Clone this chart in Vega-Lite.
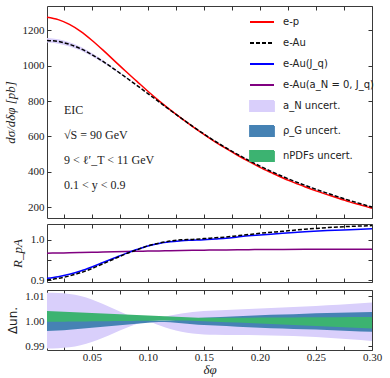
{
  "$schema": "https://vega.github.io/schema/vega-lite/v6.json",
  "padding": {"left": 3, "top": 5, "right": 5, "bottom": 2},
  "background": "white",
  "config": {
    "view": {"stroke": "#3a3a3a", "strokeWidth": 1},
    "axis": {"domain": false, "grid": false, "tickColor": "#333", "tickSize": -4, "labelPadding": 7, "labelFont": "Liberation Serif", "labelFontSize": 11, "labelColor": "#222", "titleFont": "Liberation Serif", "titleFontSize": 13, "titleFontWeight": "normal", "titleColor": "#222", "labelFlush": false},
    "line": {"strokeWidth": 1.5, "interpolate": "monotone"},
    "area": {"opacity": 1, "interpolate": "monotone"}
  },
  "datasets": {
    "main": [
      {"d":0.01,"ep":1272,"eau":1142,"alo":1129.4,"ahi":1154.9},
      {"d":0.02,"ep":1259,"eau":1136,"alo":1123.6,"ahi":1148.7},
      {"d":0.03,"ep":1232,"eau":1120,"alo":1108.2,"ahi":1132.1},
      {"d":0.04,"ep":1193,"eau":1095,"alo":1084.4,"ahi":1106.0},
      {"d":0.05,"ep":1143,"eau":1062,"alo":1053.1,"ahi":1071.1},
      {"d":0.06,"ep":1087,"eau":1023,"alo":1016.1,"ahi":1030.0},
      {"d":0.07,"ep":1028,"eau":980,"alo":975.3,"ahi":984.7},
      {"d":0.08,"ep":969,"eau":935,"alo":932.3,"ahi":937.6},
      {"d":0.09,"ep":912,"eau":889,"alo":887.9,"ahi":889.9},
      {"d":0.10,"ep":855,"eau":842,"alo":841.7,"ahi":842.2},
      {"d":0.11,"ep":801,"eau":795,"alo":793.6,"ahi":796.0},
      {"d":0.12,"ep":750,"eau":748,"alo":745.6,"ahi":749.6},
      {"d":0.13,"ep":702,"eau":702,"alo":699.0,"ahi":704.1},
      {"d":0.14,"ep":656,"eau":657,"alo":653.7,"ahi":659.4},
      {"d":0.15,"ep":612,"eau":614,"alo":610.7,"ahi":616.5},
      {"d":0.16,"ep":570,"eau":573,"alo":569.8,"ahi":575.4},
      {"d":0.17,"ep":531,"eau":535,"alo":532.0,"ahi":537.4},
      {"d":0.18,"ep":494,"eau":499,"alo":496.2,"ahi":501.3},
      {"d":0.19,"ep":459,"eau":465,"alo":462.3,"ahi":467.2},
      {"d":0.20,"ep":426,"eau":433,"alo":430.5,"ahi":435.2},
      {"d":0.21,"ep":396,"eau":403,"alo":400.7,"ahi":405.1},
      {"d":0.22,"ep":367,"eau":375,"alo":372.8,"ahi":377.0},
      {"d":0.23,"ep":341,"eau":349,"alo":346.9,"ahi":351.0},
      {"d":0.24,"ep":316,"eau":325,"alo":323.0,"ahi":326.9},
      {"d":0.25,"ep":293,"eau":302,"alo":300.1,"ahi":303.8},
      {"d":0.26,"ep":272,"eau":280,"alo":278.1,"ahi":281.8},
      {"d":0.27,"ep":251,"eau":259,"alo":257.2,"ahi":260.7},
      {"d":0.28,"ep":231,"eau":239,"alo":237.3,"ahi":240.6},
      {"d":0.29,"ep":213,"eau":220,"alo":218.3,"ahi":221.6},
      {"d":0.30,"ep":195,"eau":202,"alo":200.4,"ahi":203.5}
    ],
    "ratio": [
      {"d":0.01,"eau":0.901,"jq":0.905,"an0":0.967},
      {"d":0.02,"eau":0.905,"jq":0.909,"an0":0.9675},
      {"d":0.03,"eau":0.911,"jq":0.915,"an0":0.968},
      {"d":0.04,"eau":0.919,"jq":0.923,"an0":0.9686},
      {"d":0.05,"eau":0.929,"jq":0.933,"an0":0.9692},
      {"d":0.06,"eau":0.941,"jq":0.944,"an0":0.9698},
      {"d":0.07,"eau":0.953,"jq":0.955,"an0":0.9704},
      {"d":0.08,"eau":0.965,"jq":0.966,"an0":0.971},
      {"d":0.09,"eau":0.975,"jq":0.976,"an0":0.9716},
      {"d":0.10,"eau":0.985,"jq":0.985,"an0":0.9722},
      {"d":0.11,"eau":0.992,"jq":0.991,"an0":0.9727},
      {"d":0.12,"eau":0.997,"jq":0.995,"an0":0.9732},
      {"d":0.13,"eau":1.000,"jq":0.998,"an0":0.9736},
      {"d":0.14,"eau":1.001,"jq":0.999,"an0":0.974},
      {"d":0.15,"eau":1.003,"jq":1.000,"an0":0.9744},
      {"d":0.16,"eau":1.005,"jq":1.002,"an0":0.9748},
      {"d":0.17,"eau":1.007,"jq":1.004,"an0":0.9751},
      {"d":0.18,"eau":1.010,"jq":1.007,"an0":0.9754},
      {"d":0.19,"eau":1.013,"jq":1.010,"an0":0.9757},
      {"d":0.20,"eau":1.016,"jq":1.012,"an0":0.976},
      {"d":0.22,"eau":1.021,"jq":1.016,"an0":0.9764},
      {"d":0.24,"eau":1.026,"jq":1.020,"an0":0.9767},
      {"d":0.26,"eau":1.030,"jq":1.023,"an0":0.9769},
      {"d":0.28,"eau":1.033,"jq":1.025,"an0":0.977},
      {"d":0.30,"eau":1.035,"jq":1.027,"an0":0.977}
    ],
    "unc": [
      {"d":0.01,"b":"an","lo":0.9890,"hi":1.0113},{"d":0.01,"b":"rg","lo":0.9960,"hi":1.0036},{"d":0.01,"b":"np","lo":0.9997,"hi":1.0040},
      {"d":0.02,"b":"an","lo":0.9891,"hi":1.0112},{"d":0.02,"b":"rg","lo":0.9962,"hi":1.0034},{"d":0.02,"b":"np","lo":0.9997,"hi":1.0038},
      {"d":0.03,"b":"an","lo":0.9895,"hi":1.0108},{"d":0.03,"b":"rg","lo":0.9965,"hi":1.0031},{"d":0.03,"b":"np","lo":0.9998,"hi":1.0036},
      {"d":0.04,"b":"an","lo":0.9903,"hi":1.0100},{"d":0.04,"b":"rg","lo":0.9969,"hi":1.0027},{"d":0.04,"b":"np","lo":0.9998,"hi":1.0034},
      {"d":0.05,"b":"an","lo":0.9916,"hi":1.0086},{"d":0.05,"b":"rg","lo":0.9973,"hi":1.0023},{"d":0.05,"b":"np","lo":0.9999,"hi":1.0032},
      {"d":0.06,"b":"an","lo":0.9933,"hi":1.0068},{"d":0.06,"b":"rg","lo":0.9977,"hi":1.0019},{"d":0.06,"b":"np","lo":0.9999,"hi":1.0030},
      {"d":0.07,"b":"an","lo":0.9952,"hi":1.0048},{"d":0.07,"b":"rg","lo":0.9981,"hi":1.0015},{"d":0.07,"b":"np","lo":1.0000,"hi":1.0028},
      {"d":0.08,"b":"an","lo":0.9971,"hi":1.0028},{"d":0.08,"b":"rg","lo":0.9985,"hi":1.0011},{"d":0.08,"b":"np","lo":1.0000,"hi":1.0026},
      {"d":0.09,"b":"an","lo":0.9988,"hi":1.0010},{"d":0.09,"b":"rg","lo":0.9989,"hi":1.0007},{"d":0.09,"b":"np","lo":1.0001,"hi":1.0024},
      {"d":0.10,"b":"an","lo":0.9997,"hi":1.0002},{"d":0.10,"b":"rg","lo":0.9993,"hi":1.0004},{"d":0.10,"b":"np","lo":1.0001,"hi":1.0022},
      {"d":0.11,"b":"an","lo":0.9983,"hi":1.0012},{"d":0.11,"b":"rg","lo":0.9996,"hi":1.0001},{"d":0.11,"b":"np","lo":1.0002,"hi":1.0020},
      {"d":0.12,"b":"an","lo":0.9968,"hi":1.0022},{"d":0.12,"b":"rg","lo":0.9995,"hi":1.0002},{"d":0.12,"b":"np","lo":1.0002,"hi":1.0018},
      {"d":0.13,"b":"an","lo":0.9957,"hi":1.0030},{"d":0.13,"b":"rg","lo":0.9991,"hi":1.0006},{"d":0.13,"b":"np","lo":1.0002,"hi":1.0016},
      {"d":0.14,"b":"an","lo":0.9950,"hi":1.0036},{"d":0.14,"b":"rg","lo":0.9987,"hi":1.0010},{"d":0.14,"b":"np","lo":1.0001,"hi":1.0014},
      {"d":0.15,"b":"an","lo":0.9946,"hi":1.0040},{"d":0.15,"b":"rg","lo":0.9984,"hi":1.0013},{"d":0.15,"b":"np","lo":0.9999,"hi":1.0013},
      {"d":0.16,"b":"an","lo":0.9945,"hi":1.0042},{"d":0.16,"b":"rg","lo":0.9982,"hi":1.0015},{"d":0.16,"b":"np","lo":0.9997,"hi":1.0013},
      {"d":0.18,"b":"an","lo":0.9944,"hi":1.0046},{"d":0.18,"b":"rg","lo":0.9977,"hi":1.0019},{"d":0.18,"b":"np","lo":0.9994,"hi":1.0013},
      {"d":0.20,"b":"an","lo":0.9943,"hi":1.0050},{"d":0.20,"b":"rg","lo":0.9973,"hi":1.0023},{"d":0.20,"b":"np","lo":0.9990,"hi":1.0014},
      {"d":0.22,"b":"an","lo":0.9941,"hi":1.0054},{"d":0.22,"b":"rg","lo":0.9970,"hi":1.0026},{"d":0.22,"b":"np","lo":0.9986,"hi":1.0014},
      {"d":0.24,"b":"an","lo":0.9938,"hi":1.0058},{"d":0.24,"b":"rg","lo":0.9967,"hi":1.0029},{"d":0.24,"b":"np","lo":0.9982,"hi":1.0015},
      {"d":0.26,"b":"an","lo":0.9933,"hi":1.0063},{"d":0.26,"b":"rg","lo":0.9964,"hi":1.0032},{"d":0.26,"b":"np","lo":0.9978,"hi":1.0015},
      {"d":0.28,"b":"an","lo":0.9927,"hi":1.0068},{"d":0.28,"b":"rg","lo":0.9960,"hi":1.0034},{"d":0.28,"b":"np","lo":0.9974,"hi":1.0016},
      {"d":0.30,"b":"an","lo":0.9920,"hi":1.0074},{"d":0.30,"b":"rg","lo":0.9957,"hi":1.0036},{"d":0.30,"b":"np","lo":0.9970,"hi":1.0016}
    ]
  },
  "spacing": 3,
  "resolve": {"scale": {"x": "independent", "y": "independent", "color": "shared"}, "legend": {"color": "shared"}},
  "vconcat": [
    {
      "width": 325, "height": 212,
      "resolve": {"axis": {"x": "independent", "y": "independent"}},
      "layer": [
        {
          "data": {"name": "main"},
          "mark": {"type": "area"},
          "encoding": {
            "x": {"field": "d", "type": "quantitative", "scale": {"domain": [0.01, 0.3], "nice": false, "zero": false},
                  "axis": {"orient": "bottom", "values": [0.025,0.05,0.075,0.1,0.125,0.15,0.175,0.2,0.225,0.25,0.275,0.3], "labels": false, "title": null}},
            "y": {"field": "alo", "type": "quantitative", "scale": {"domain": [140, 1336], "nice": false, "zero": false},
                  "axis": {"orient": "left", "values": [200,400,600,800,1000,1200], "format": "d", "title": "dσ/dδφ [pb]", "titleFontStyle": "italic", "titlePadding": 5}},
            "y2": {"field": "ahi"},
            "color": {"datum": "an", "type": "nominal", "title": null,
              "scale": {"domain": ["ep","eau","jq","an0","an","rg","np"], "range": ["#ff0000","#000000","#0000ff","#800080","#d9cffb","#4682b4","#3cb371"]},
              "legend": {"orient": "none", "legendX": 202, "legendY": 3, "title": null, "symbolSize": 576, "rowPadding": 3, "labelFont": "DejaVu Sans", "labelFontSize": 10, "labelColor": "#222", "labelOffset": 8,
                "labelExpr": "datum.value=='ep'?'e-p':datum.value=='eau'?'e-Au':datum.value=='jq'?'e-Au(J_q)':datum.value=='an0'?'e-Au(a_N = 0, J_q)':datum.value=='an'?'a_N uncert.':datum.value=='rg'?'ρ_G uncert.':'nPDFs uncert.'",
                "encode": {"symbols": {"update": {
                  "shape": {"signal": "indexof(['an','rg','np'], datum.value) >= 0 ? 'M-1,-0.42H1V0.42H-1Z' : 'stroke'"},
                  "fill": {"signal": "indexof(['an','rg','np'], datum.value) >= 0 ? scale('color', datum.value) : 'transparent'"},
                  "stroke": {"signal": "indexof(['an','rg','np'], datum.value) >= 0 ? 'transparent' : scale('color', datum.value)"},
                  "strokeDash": {"signal": "datum.value == 'eau' ? [4,2] : [1,0]"},
                  "strokeWidth": {"value": 1.8},
                  "opacity": {"value": 1}
                }}}}}
          }
        },
        {
          "data": {"name": "main"},
          "mark": {"type": "line"},
          "encoding": {
            "x": {"field": "d", "type": "quantitative", "axis": {"orient": "top", "values": [0.025,0.05,0.075,0.1,0.125,0.15,0.175,0.2,0.225,0.25,0.275,0.3], "labels": false, "title": null}},
            "y": {"field": "ep", "type": "quantitative", "axis": {"orient": "right", "values": [200,400,600,800,1000,1200], "labels": false, "title": null}},
            "color": {"datum": "ep", "type": "nominal", "title": null}
          }
        },
        {
          "data": {"name": "main"},
          "mark": {"type": "line", "strokeDash": [4, 2]},
          "encoding": {
            "x": {"field": "d", "type": "quantitative", "axis": null},
            "y": {"field": "eau", "type": "quantitative", "axis": null},
            "color": {"datum": "eau", "type": "nominal", "title": null}
          }
        },
        {
          "data": {"values": [{}]},
          "mark": {"type": "text", "align": "left", "baseline": "top", "font": "Liberation Serif", "fontSize": 12, "lineHeight": 25, "color": "#222"},
          "encoding": {
            "x": {"datum": 0.0252, "type": "quantitative", "axis": null},
            "y": {"datum": 778, "type": "quantitative", "axis": null},
            "text": {"value": ["EIC", "√S = 90 GeV", "9 < ℓ′_T < 11 GeV", "0.1 < y < 0.9"]}
          }
        }
      ]
    },
    {
      "width": 325, "height": 58,
      "resolve": {"axis": {"x": "independent", "y": "independent"}},
      "data": {"name": "ratio"},
      "layer": [
        {
          "mark": {"type": "line"},
          "encoding": {
            "x": {"field": "d", "type": "quantitative", "scale": {"domain": [0.01, 0.3], "nice": false, "zero": false},
                  "axis": {"orient": "bottom", "values": [0.025,0.05,0.075,0.1,0.125,0.15,0.175,0.2,0.225,0.25,0.275,0.3], "labels": false, "title": null}},
            "y": {"field": "an0", "type": "quantitative", "scale": {"domain": [0.896, 1.039], "nice": false, "zero": false},
                  "axis": {"orient": "left", "values": [0.9, 0.95, 1.0], "labelExpr": "round(datum.value*100) % 10 == 0 ? format(datum.value, '.1f') : ''", "title": "R_pA", "titleFontStyle": "italic", "titlePadding": 6}},
            "color": {"datum": "an0", "type": "nominal", "title": null}
          }
        },
        {
          "mark": {"type": "line"},
          "encoding": {
            "x": {"field": "d", "type": "quantitative", "axis": {"orient": "top", "values": [0.025,0.05,0.075,0.1,0.125,0.15,0.175,0.2,0.225,0.25,0.275,0.3], "labels": false, "title": null}},
            "y": {"field": "jq", "type": "quantitative", "axis": {"orient": "right", "values": [0.9, 0.95, 1.0], "labels": false, "title": null}},
            "color": {"datum": "jq", "type": "nominal", "title": null}
          }
        },
        {
          "mark": {"type": "line", "strokeDash": [4, 2]},
          "encoding": {
            "x": {"field": "d", "type": "quantitative", "axis": null},
            "y": {"field": "eau", "type": "quantitative", "axis": null},
            "color": {"datum": "eau", "type": "nominal", "title": null}
          }
        }
      ]
    },
    {
      "width": 325, "height": 60,
      "resolve": {"axis": {"x": "independent", "y": "independent"}},
      "data": {"name": "unc"},
      "layer": [
        {
          "transform": [{"filter": "datum.b == 'an'"}],
          "mark": {"type": "area"},
          "encoding": {
            "x": {"field": "d", "type": "quantitative", "scale": {"domain": [0.01, 0.3], "nice": false, "zero": false},
                  "axis": {"orient": "bottom", "values": [0.025,0.05,0.075,0.1,0.125,0.15,0.175,0.2,0.225,0.25,0.275,0.3], "labelExpr": "round(datum.value*1000) % 50 == 0 ? format(datum.value, '.2f') : ''", "labelPadding": 5, "title": "δφ", "titleFontStyle": "italic", "titleFontSize": 13, "titlePadding": 1}},
            "y": {"field": "lo", "type": "quantitative", "scale": {"domain": [0.9884, 1.0124], "nice": false, "zero": false},
                  "axis": {"orient": "left", "values": [0.99, 1.0, 1.01], "format": ".2f", "title": "Δun.", "titleFont": "DejaVu Sans", "titleFontSize": 12, "titlePadding": 5}},
            "y2": {"field": "hi"},
            "color": {"field": "b", "type": "nominal", "title": null}
          }
        },
        {
          "transform": [{"filter": "datum.b == 'rg'"}],
          "mark": {"type": "area"},
          "encoding": {
            "x": {"field": "d", "type": "quantitative", "axis": {"orient": "top", "values": [0.025,0.05,0.075,0.1,0.125,0.15,0.175,0.2,0.225,0.25,0.275,0.3], "labels": false, "title": null}},
            "y": {"field": "lo", "type": "quantitative", "axis": {"orient": "right", "values": [0.99, 1.0, 1.01], "labels": false, "title": null}},
            "y2": {"field": "hi"},
            "color": {"field": "b", "type": "nominal", "title": null}
          }
        },
        {
          "transform": [{"filter": "datum.b == 'np'"}],
          "mark": {"type": "area"},
          "encoding": {
            "x": {"field": "d", "type": "quantitative", "axis": null},
            "y": {"field": "lo", "type": "quantitative", "axis": null},
            "y2": {"field": "hi"},
            "color": {"field": "b", "type": "nominal", "title": null}
          }
        }
      ]
    }
  ]
}
